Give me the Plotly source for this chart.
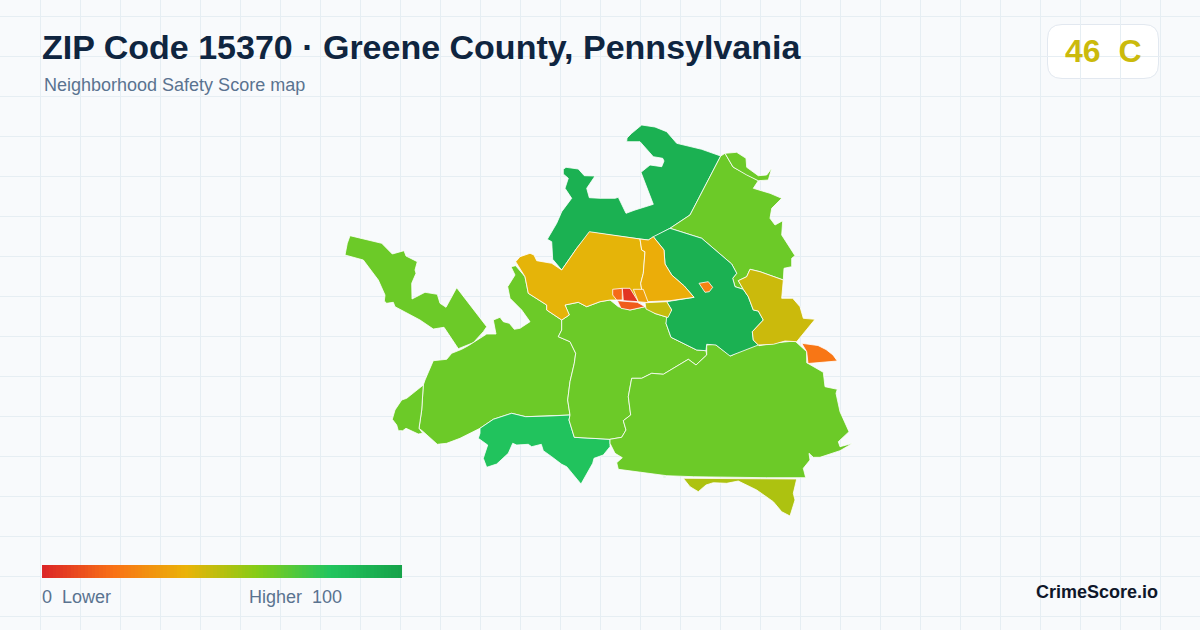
import plotly.graph_objects as go
from plotly.colors import sample_colorscale

# score colour ramp, 0 to 100
score_colors = [[0.0, '#dc2626'], [0.2, '#f97316'], [0.4, '#eab308'],
                [0.6, '#84cc16'], [0.8, '#22c55e'], [1.0, '#16a34a']]
legend_ramp = list(range(0, 101))

title_text = 'ZIP Code 15370 · Greene County, Pennsylvania'
subtitle_text = 'Neighborhood Safety Score map'
overall_score = 46
overall_grade = 'C'

##AREA OUTLINES
north = [(563.3,169.3),(566,167.3),(578.3,169),(584.3,175.7),(595,176),(586.7,188.3),(589.3,197.7),(600,198.3),
         (615,198.3),(618.3,197.3),(626,213.3),(635,210),(653.3,204.3),(641,172.3),(650,165),(661.7,166.7),
         (664,161),(662.7,158.3),(653.3,156.7),(640,141.7),(626.7,141.7),(627,138),(631.7,133.3),(641.7,125),(655,127),
         (666.7,131.7),(676.7,143.3),(701.7,149.3),(720.7,156),(690,215),(670,228.3),(648.3,240),(640,239),(590,232.3),
         (576.7,248.3),(561.7,270),(552.7,259.3),(551.7,241.7),(547.3,239.3),(556.7,223.3),(561.7,211.7),
         (571.7,198.3),(565,188.3),(568.3,178.3),(563.3,174)]
north_east = [(720.7,156),(725,153.3),(733,167),(756,180),(758.3,180.7),(753.3,188.3),(770,193.3),(781.7,198.3),
              (771.7,208.3),(770,218.3),(775,225),(782.7,220.7),(781.7,235),(795,255.7),(791.7,258.3),
              (791.7,266.7),(784,268.3),(783.3,280),(760,271.7),(750,269.3),(746.7,276.7),(738.3,280.7),
              (743.3,289.3),(735,286.7),(732.7,278.3),(736.7,273.3),(731.7,264),(701.7,238.3),(670,228.3),(690,215)]
north_east_strip = [(725,153.3),(736.7,152.3),(746,158.3),(746.7,167.3),(758.3,175.7),(766.7,175),(771.7,168.3),
                    (768.3,180),(758.3,180.7),(746.7,175),(733,167)]
amber_west = [(515.7,261.7),(520,256.7),(530,253.3),(534,255),(536.7,260.7),(551.7,263.3),(561.7,270),(576.7,248.3),
              (589.3,231.7),(640,239),(641.7,250),(645,251.7),(643.3,273.3),(640.7,283.3),(643.3,300),(610,300),
              (600,301.7),(586.7,306.7),(578.3,302.3),(565,305),(569.3,315),(561.7,320),(546.7,310),(546.7,305),
              (528.3,293.3),(525,276.7)]
amber_east = [(640,239),(648.3,240),(653.3,236.7),(664,250),(665,264),(671.7,275),(684.3,286),(694,297.3),(670,300.7),
              (647.3,301.7),(643.3,300),(640.7,283.3),(643.3,273.3),(645,251.7),(641.7,250)]
east_center = [(653.3,236.7),(670,228.3),(701.7,238.3),(731.7,264),(736.7,273.3),(732.7,278.3),(735,286.7),(743.3,289.3),
               (748.3,296.7),(753.3,310),(758.3,311),(763.3,320),(752.3,331.7),(753.3,340),(758.3,345),(730,356),
               (716,345),(706.7,344.3),(706,350.7),(696.7,350),(671,337.3),(666,323.3),(666.7,316.7),(671.7,310),
               (666.7,301.7),(694,297.3),(684.3,286),(671.7,275),(665,264),(664,250)]
east_yellow = [(738.3,280.7),(746.7,276.7),(750,269.3),(760,271.7),(783.3,280),(781.7,298.3),(792.7,298.3),(800,306.7),
               (803.3,318.3),(815,319.3),(796.7,341.7),(785,341),(773.3,344.3),(758.3,345),(753.3,340),(752.3,331.7),
               (763.3,320),(758.3,311),(753.3,310),(748.3,296.7),(743.3,289.3)]
far_east_orange = [(801.7,343.3),(810,344.3),(818,345.5),(826,349.5),(833,355),(837.3,361),(823,362),(808,363.5),(806.7,351.7)]
inner_orange = [(699,283.3),(708.3,281.7),(712.7,287.3),(709.3,291.7),(705,292.3)]
north_west = [(350,235.7),(381.7,243.3),(392.3,254),(404,250.7),(406,256),(417.3,261.7),(415,270),(416,273.3),(411.7,283.3),
              (412,299),(425,292.3),(437.3,294.3),(440,303.3),(446,307.3),(456.7,287.7),(486.7,326.7),(483.3,331.7),
              (473.3,342.7),(458.3,348.7),(444,327.3),(433.3,329),(420,320),(395,306.7),(393.3,302.3),(386.7,303.3),
              (384.3,301),(385,295),(378.3,280),(363.3,260),(345,255),(347.3,243.3)]
west = [(433.3,360.7),(446.7,359.3),(451.7,353.3),(461.7,349.3),(468.3,345.7),(474,342.3),(486.7,334),(496,334),
        (493.3,320),(500,317.3),(503.3,321.7),(509.3,323.3),(514.3,329.3),(520,328.3),(530,321.7),(521.7,310),(510,298.3),
        (507.7,286.7),(515,275),(511,266.7),(515.7,265.7),(525,276.7),(528.3,293.3),(546.7,305),(546.7,310),(561.7,320),
        (561.7,330),(558.3,336.7),(570,341.7),(575.7,353.3),(574.3,363.3),(570,381.7),(567.7,400),(570,415),(550,416),
        (525.7,416.7),(511.7,413.3),(493.3,419.3),(480,428.3),(460,438.3),(446.7,443.3),(437.3,444.3),(423.3,431.7),
        (419,428.3),(421.7,410),(423.3,385),(425,380)]
south_west = [(423.3,385),(421.7,410),(419,428.3),(422.7,433.3),(418.3,434),(406,428.3),(402.7,430.7),(398.3,430.7),
              (396.7,425),(392.3,419.3),(395,410),(401.7,400),(406.7,398.3)]
south_mid = [(480,428.3),(493.3,419.3),(511.7,413.3),(525.7,416.7),(550,416),(570,415),(569,420),(574.3,437.3),(610,439.3),
             (610,446.7),(603.3,455),(594,458.3),(592.7,463.3),(581,484),(566.7,466.7),(561.7,464.3),(551.7,456.7),
             (543.3,450.7),(541.3,444.3),(531.7,446.7),(528.3,444.3),(516.7,445),(512.7,443.3),(508.3,453.3),(496.7,464),
             (486.7,467.3),(483.3,458.3),(487.7,445),(478.3,438.3),(480,433.3)]
center = [(561.7,320),(569.3,315),(565,305),(578.3,302.3),(586.7,306.7),(600,301.7),(610,300),(618.3,306.7),(630,310),
          (645,306.7),(655,313.5),(668,317.5),(666,323.3),(671,337.3),(696.7,350),(706,350.7),(706.7,355),(696,365),
          (688.3,359.3),(663.3,374.3),(651.7,373.3),(641.7,378.3),(631.7,378.3),(628.3,396.7),(630.7,415),(623.3,420.7),
          (626,430),(621.7,437.3),(610,439.3),(574.3,437.3),(569,420),(570,415),(567.7,400),(570,381.7),(574.3,363.3),
          (575.7,353.3),(570,341.7),(558.3,336.7),(561.7,330)]
south_east = [(706.7,345),(715,344.3),(730.7,356),(750,346),(756.7,342.3),(759,345.7),(776.7,342.7),(795,341),(806.7,351.7),
              (806.7,362.7),(823.3,372.3),(825,386.7),(837.3,389.3),(836,393.3),(840,411.7),(849,431.7),(838.3,441.7),
              (840,446.7),(852.7,443.3),(840,450.7),(820,457.3),(813.3,457.3),(809,453.3),(810,460),(803.3,468.3),
              (805.7,477.7),(766.7,477.7),(693.3,476.7),(666.7,475.7),(618.3,469.3),(616.7,462.7),(622.3,457.7),(615,453.3),
              (610,443.3),(610,439.3),(621.7,437.3),(626,430),(623.3,420.7),(630.7,415),(628.3,396.7),(631.7,378.3),
              (641.7,378.3),(651.7,373.3),(663.3,374.3),(688.3,359.3),(696,365),(706.7,355)]
south_yellow = [(683.3,478.3),(796.7,479),(793.3,493.3),(795,500),(790,516),(781.7,511.7),(773.3,501.7),(756.7,490),(750,486.7),
                (738.3,481),(726.7,483.3),(713.3,482.7),(706,485),(698.3,491.7),(690,486.7)]
sliver = [(663,476.5),(666,476.5),(666,477.5),(663,477.5)]
core_yellow = [(645,302.7),(666.7,301.7),(671.7,310),(668,317.5),(655,313.5),(646,309)]
core_left = [(612.7,289.3),(622.3,288.3),(622.3,300),(616.7,300),(612.7,295)]
core_red = [(622.3,288.3),(630,288.3),(638.3,301.7),(623.3,300.7)]
core_bottom = [(617.3,300.7),(637.3,302.3),(645,306.7),(630,310),(621,308.3)]
core_amber = [(633.3,289.3),(643.3,289.3),(648.3,302.7),(638.3,301.7)]

# (outline, score) in drawing order
areas = [
    (north, 92), (north_east, 65), (north_east_strip, 65), (north_west, 65), (west, 65), (south_west, 65),
    (south_mid, 81), (center, 65), (south_east, 65), (south_yellow, 52), (east_center, 92), (east_yellow, 46),
    (far_east_orange, 21), (amber_west, 41), (amber_east, 38), (inner_orange, 25), (core_yellow, 47),
    (core_left, 18), (core_red, 4), (core_bottom, 14), (core_amber, 34), (sliver, 92),
]

fig = go.Figure()

for outline, score in areas:
    color = sample_colorscale(score_colors, score / 100)[0]
    fig.add_trace(go.Scatter(x=[p[0] for p in outline] + [outline[0][0]],
                             y=[p[1] for p in outline] + [outline[0][1]],
                             mode='lines', fill='toself', fillcolor=color,
                             line=dict(color='white', width=0.8),
                             hoverinfo='skip', showlegend=False))

##LEGEND BAR
fig.add_trace(go.Heatmap(z=[legend_ramp], x0=43.8, dx=3.564, y0=571.5, dy=13,
                         colorscale=score_colors, zmin=0, zmax=100,
                         showscale=False, hoverinfo='skip'))

##LAYOUT
fig.update_layout(
    width=1200,
    height=630,
    autosize=False,
    margin=dict(l=0, r=0, t=0, b=0),
    paper_bgcolor='#f8fafc',
    plot_bgcolor='#f8fafc',
    showlegend=False,
    font_family='Liberation Sans, Arial, sans-serif',
    shapes=[
        # hides the grid behind the header
        dict(type='rect', x0=0, x1=1200, y0=0, y1=96, fillcolor='#f8fafc', line_width=0, layer='below'),
        # score badge
        dict(type='path', layer='below', fillcolor='#ffffff', line=dict(color='#e2e8f0', width=1),
             path='M 1062 24.5 L 1144 24.5 Q 1158.5 24.5 1158.5 39 L 1158.5 64 Q 1158.5 78.5 1144 78.5 '
                  'L 1062 78.5 Q 1047.5 78.5 1047.5 64 L 1047.5 39 Q 1047.5 24.5 1062 24.5 Z'),
    ],
)

fig.update_xaxes(range=[0, 1200], tick0=0.5, dtick=40, showgrid=True, gridcolor='#e6eef3', gridwidth=1,
                 zeroline=False, showticklabels=False, ticks='', fixedrange=True)
fig.update_yaxes(range=[630, 0], tick0=96.5, dtick=40, showgrid=True, gridcolor='#e6eef3', gridwidth=1,
                 zeroline=False, showticklabels=False, ticks='', fixedrange=True)

##TEXT
def label(text, x, y, size, color, anchor='left', bold=False):
    fig.add_annotation(x=x, y=y, xref='x', yref='y', text='<b>%s</b>' % text if bold else text,
                       showarrow=False, xanchor=anchor, yanchor='middle', borderpad=0, borderwidth=0,
                       font=dict(size=size, color=color))

label(title_text, 42, 47, 34, '#0f2540', bold=True)
label(subtitle_text, 44, 85, 18, '#5a7390')
label('%d  %s' % (overall_score, overall_grade), 1103, 51, 32,
      sample_colorscale(score_colors, overall_score / 100)[0], anchor='center', bold=True)
label('0  Lower', 42, 597, 18, '#5a7390')
label('Higher  100', 342, 597, 18, '#5a7390', anchor='right')
label('CrimeScore.io', 1158, 592, 18, '#0f172a', anchor='right', bold=True)

fig.write_html('out.html', config={'displayModeBar': False}, post_script="document.body.style.margin='0';")
